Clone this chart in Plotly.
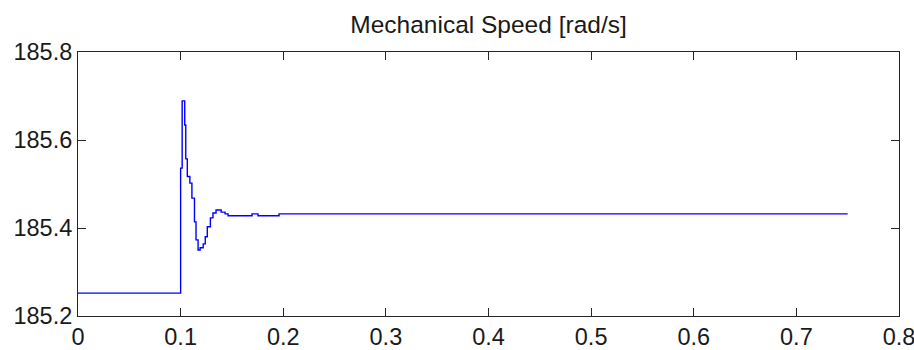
import plotly.graph_objects as go

time_s = [0.0, 0.1, 0.1015, 0.104, 0.105, 0.1065, 0.109, 0.111, 0.1135, 0.115,
          0.117, 0.119, 0.122, 0.124, 0.126, 0.129, 0.1315, 0.1345, 0.1395,
          0.1433, 0.1462, 0.1696, 0.1754, 0.1959, 0.75]
speed = [185.252, 185.536, 185.689, 185.634, 185.557, 185.517, 185.502, 185.468,
         185.414, 185.373, 185.350, 185.355, 185.364, 185.380, 185.403, 185.423,
         185.434, 185.441, 185.436, 185.432, 185.428, 185.432, 185.428, 185.432,
         185.432]

x_ticks = [0, 0.1, 0.2, 0.3, 0.4, 0.5, 0.6, 0.7, 0.8]
x_labels = ["0", "0.1", "0.2", "0.3", "0.4", "0.5", "0.6", "0.7", "0.8"]
y_ticks = [185.2, 185.4, 185.6, 185.8]
y_labels = ["185.2", "185.4", "185.6", "185.8"]

fig = go.Figure()
fig.add_trace(go.Scatter(x=time_s, y=speed, mode="lines",
                         line=dict(color="#0000FF", width=1.4, shape="hv"),
                         showlegend=False))

axis_common = dict(showgrid=False, zeroline=False, showline=True, linecolor="#262626",
                   linewidth=1, ticks="inside", ticklen=8, tickcolor="#262626",
                   mirror="ticks", automargin=False, ticklabeloverflow="allow",
                   tickfont=dict(family="Liberation Sans, Arial", size=23.5, color="#1a1a1a"))

fig.update_xaxes(range=[0, 0.8], tickvals=x_ticks, ticktext=x_labels, **axis_common)
fig.update_yaxes(range=[185.2, 185.8], tickvals=y_ticks, ticktext=y_labels, **axis_common)

fig.update_layout(
    width=914, height=350,
    margin=dict(l=78, r=15, t=52, b=34),
    paper_bgcolor="white", plot_bgcolor="white",
    title=dict(text="Mechanical Speed [rad/s]", x=0.5345, xanchor="center",
               y=1 - 24 / 350, yanchor="middle",
               font=dict(family="Liberation Sans, Arial", size=24.5, color="#1a1a1a")),
)

fig.write_html("out.html", config={"displayModeBar": False},
               post_script="document.body.style.margin='0';")
